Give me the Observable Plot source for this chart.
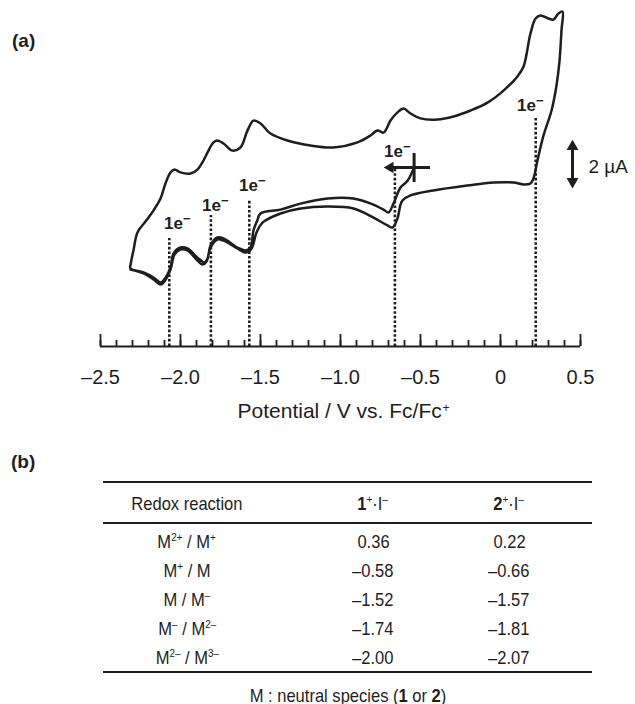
<!DOCTYPE html>
<html>
<head>
<meta charset="utf-8">
<script src="https://cdn.jsdelivr.net/npm/d3@7"></script>
<script src="https://cdn.jsdelivr.net/npm/@observablehq/plot@0.6"></script>
<style>
  html, body { margin: 0; padding: 0; background: #fff; }
  #wrap { position: relative; width: 635px; height: 704px; overflow: hidden;
          font-family: "Liberation Sans", Arial, Helvetica, sans-serif; color: #1e1e1e; }
  #wrap svg { position: absolute; left: 0; top: 0; }
  .abs { position: absolute; white-space: nowrap; }
  .panel { font-weight: bold; font-size: 19px; line-height: 19px; }
  .rule { position: absolute; left: 103px; width: 489px; height: 2.5px; background: #1e1e1e; }
  .cell { position: absolute; white-space: nowrap; }
  sup { font-size: 0.6em; vertical-align: 0.6em; line-height: 0; }
</style>
</head>
<body>
<div id="wrap"></div>
<script>
// ---------- data ----------
// Redox potentials (V vs. Fc/Fc+) from table (b)
const reactions = ["M<sup>2+</sup> / M<sup>+</sup>", "M<sup>+</sup> / M", "M / M<sup>–</sup>",
                   "M<sup>–</sup> / M<sup>2–</sup>", "M<sup>2–</sup> / M<sup>3–</sup>"];
const potentials1 = [0.36, -0.58, -1.52, -1.74, -2.00];
const potentials2 = [0.22, -0.66, -1.57, -1.81, -2.07];

// Cyclic voltammogram of 2+·I− : potential (V) and current (µA, relative offset)
const cvPotential = [
  -0.54, -0.58, -0.625, -0.669, -0.70, -0.731, -0.81, -0.92, -1.08, -1.25, -1.375, -1.50,
  -1.52, -1.544, -1.563, -1.594, -1.644, -1.731, -1.769, -1.8125, -1.831, -1.85, -1.894,
  -1.956, -2.0, -2.044, -2.0625, -2.106, -2.125, -2.169, -2.231, -2.3125,
  -2.31, -2.294, -2.269, -2.219, -2.169, -2.125, -2.094, -2.0625, -2.0375, -2.0, -1.9375,
  -1.894, -1.856, -1.825, -1.794, -1.769, -1.731, -1.675, -1.625, -1.581, -1.544, -1.5,
  -1.4375, -1.331, -1.1875, -1.044, -0.894, -0.8125, -0.769, -0.731, -0.6875, -0.644,
  -0.606, -0.5625, -0.5, -0.394, -0.294, -0.1875, -0.081, 0.019, 0.106, 0.144, 0.1875,
  0.219, 0.25, 0.30, 0.331, 0.3625, 0.3875,
  0.381, 0.369, 0.35, 0.319, 0.269, 0.231, 0.206, 0.1875, 0.144, 0.081, -0.044, -0.206,
  -0.419, -0.5625, -0.6125, -0.625, -0.644, -0.675, -0.706, -0.794, -0.919, -1.081, -1.25,
  -1.375, -1.4875, -1.525, -1.556, -1.594, -1.644, -1.731, -1.769, -1.8125, -1.8375,
  -1.8625, -1.9, -1.956, -2.0, -2.0375, -2.0625, -2.106, -2.125, -2.169, -2.231, -2.3125
];
const cvCurrent = [
  1.38, 0.83, 0.54, -0.13, -0.50, -0.38, -0.13, 0.08, 0.08, -0.13, -0.38, -0.54,
  -0.83, -1.25, -1.96, -2.08, -1.96, -1.58, -1.54, -1.875, -2.42, -2.58, -2.38,
  -2.0, -1.96, -2.21, -2.79, -3.33, -3.42, -3.21, -3.0, -2.83,
  -2.6, -2.08, -1.33, -0.875, -0.42, 0.08, 0.71, 1.17, 1.29, 1.17, 1.125,
  1.29, 1.67, 2.08, 2.42, 2.5, 2.375, 2.08, 2.21, 2.92, 3.33, 3.21,
  2.79, 2.5, 2.29, 2.21, 2.42, 2.71, 2.92, 2.83, 3.33, 3.67,
  3.83, 3.625, 3.42, 3.375, 3.5, 3.75, 4.08, 4.58, 5.17, 5.58, 6.96,
  7.58, 7.71, 7.58, 7.54, 7.79, 7.875,
  7.08, 5.83, 4.79, 3.75, 2.71, 1.67, 0.92, 0.71, 0.67, 0.75, 0.75, 0.625,
  0.42, 0.21, 0.0, -0.17, -0.75, -1.125, -1.04, -0.71, -0.33, -0.25, -0.33,
  -0.54, -0.92, -1.33, -2.0, -2.17, -2.0, -1.67, -1.625, -1.96, -2.54,
  -2.67, -2.46, -2.08, -2.04, -2.25, -2.875, -3.42, -3.5, -3.29, -3.04, -2.875
];

// annotation anchors (µA / V)
const dottedTop = [3.46, 1.33, 0.0, -0.625, -1.583];      // top of each dotted marker line
const labelPotential = [0.1625, -0.669, -1.575, -1.806, -2.044]; // "1e−" label centres
const labelCurrent = [3.96, 2.04, 0.625, -0.208, -0.958];
const majorTicks = [-2.5, -2.0, -1.5, -1.0, -0.5, 0, 0.5];
const minorTicks = d3.range(-25, 6).map(k => k / 10);
const axisTitle = "Potential / V vs. Fc/Fc";
const scaleBar = {potential: 0.45, top: 2.25, bottom: 0.79, label: "2 µA", labelPotential: 0.55, labelCurrent: 1.42};
const startMark = {potential: -0.54, current: 1.375, barTop: 1.96, barBottom: 0.75, arrowFrom: -0.4375, arrowHead: -0.689};

// ---------- chart (a) ----------
const yMin = -6.083, yMax = 8.333;
const plotTop = 0, plotBottom = 346;
const pxPerUnit = (plotBottom - plotTop) / (yMax - yMin);
const u = px => px / pxPerUnit;
const ink = "#1e1e1e";
const cv = cvPotential.map((v, i) => ({v, i: cvCurrent[i]}));
const idx = d3.range(potentials2.length);
const fmtTick = d => d === 0 ? "0" : (d < 0 ? "–" : "") + Math.abs(d).toFixed(1);

const chart = Plot.plot({
  width: 635, height: 440,
  marginLeft: 100, marginRight: 55, marginTop: plotTop, marginBottom: 440 - plotBottom,
  x: {domain: [-2.5, 0.5], axis: null},
  y: {domain: [yMin, yMax], axis: null},
  style: {fontFamily: '"Liberation Sans", Arial, Helvetica, sans-serif', color: ink, background: "transparent", overflow: "visible"},
  marks: [
    // axis line and upward ticks
    Plot.ruleY([yMin], {x1: -2.5, x2: 0.5, stroke: ink, strokeWidth: 2}),
    Plot.ruleX(minorTicks, {x: d => d, y1: yMin, y2: yMin + u(6), stroke: ink, strokeWidth: 1.8}),
    Plot.ruleX(majorTicks, {x: d => d, y1: yMin, y2: yMin + u(12), stroke: ink, strokeWidth: 1.8}),
    Plot.text(majorTicks, {x: d => d, y: yMin, dy: 31, text: fmtTick, fontSize: 20}),
    Plot.text([axisTitle], {frameAnchor: "bottom", dx: -103, dy: 71, textAnchor: "start", text: d => d, fontSize: 21}),
    Plot.text(["+"], {frameAnchor: "bottom", dx: 102, dy: 65, textAnchor: "start", text: d => d, fontSize: 12}),
    // dotted markers at redox potentials
    Plot.ruleX(idx, {x: i => potentials2[i], y1: yMin, y2: i => dottedTop[i], stroke: ink, strokeWidth: 2.6, strokeDasharray: "2.6,2"}),
    // voltammogram
    Plot.line(cv, {x: "v", y: "i", curve: "catmull-rom", stroke: ink, strokeWidth: 2.5, strokeLinejoin: "round"}),
    // "1e−" labels
    Plot.text(idx, {x: i => labelPotential[i], y: i => labelCurrent[i], text: () => "1e", fontSize: 17, fontWeight: "bold"}),
    Plot.text(idx, {x: i => labelPotential[i], y: i => labelCurrent[i], dx: 9.5, dy: -5, textAnchor: "start", text: () => "−", fontSize: 13, fontWeight: "bold"}),
    // start marker (+) with scan direction arrow
    Plot.ruleY([startMark], {x1: "arrowFrom", x2: "arrowHead", y: "current", stroke: ink, strokeWidth: 3}),
    Plot.ruleX([startMark], {x: "potential", y1: "barBottom", y2: "barTop", stroke: ink, strokeWidth: 3}),
    Plot.dot([startMark], {x: "arrowHead", y: "current", symbol: "triangle", r: 4.2, rotate: -90, fill: ink, stroke: null}),
    // 2 µA scale bar
    Plot.ruleX([scaleBar], {x: "potential", y1: "bottom", y2: "top", stroke: ink, strokeWidth: 3}),
    Plot.dot([scaleBar], {x: "potential", y: "top", symbol: "triangle", r: 4.4, fill: ink, stroke: null}),
    Plot.dot([scaleBar], {x: "potential", y: "bottom", symbol: "triangle", r: 4.4, rotate: 180, fill: ink, stroke: null}),
    Plot.text([scaleBar], {x: "labelPotential", y: "labelCurrent", text: "label", textAnchor: "start", fontSize: 19})
  ]
});

const wrap = document.getElementById("wrap");
wrap.appendChild(chart);

// ---------- panel labels ----------
function addAbs(html, cls, left, top, extra) {
  const d = document.createElement("div");
  d.className = cls;
  d.innerHTML = html;
  d.style.left = left + "px";
  d.style.top = top + "px";
  if (extra) Object.assign(d.style, extra);
  wrap.appendChild(d);
  return d;
}
addAbs("(a)", "abs panel", 12, 31);
addAbs("(b)", "abs panel", 11, 452);

// ---------- table (b) ----------
const tFont = '"Liberation Sans", Arial, sans-serif';
const tSize = 19;

const rules = [482, 523, 672];
rules.forEach(y => { const r = document.createElement("div"); r.className = "rule"; r.style.top = (y - 1.25) + "px"; wrap.appendChild(r); });

const colX = [187, 373, 509];
const header = ["Redox reaction", "<b>1</b><sup>+</sup>·I<sup>–</sup>", "<b>2</b><sup>+</sup>·I<sup>–</sup>"];
const rowY = [541, 570, 599, 628, 657];
const fmtE = v => (v < 0 ? "–" : "") + Math.abs(v).toFixed(2);

function cell(html, x, yc) {
  addAbs(html, "cell", x, yc - tSize / 2, {fontFamily: tFont, fontSize: tSize + "px", lineHeight: tSize + "px",
    transform: "translateX(-50%) scaleX(0.87)", transformOrigin: "0 50%"});
}
// note: translate then scale around the cell's left edge; compensate by centring via width measurement
function centredCell(html, x, yc) {
  const d = addAbs(html, "cell", 0, yc - tSize / 2, {fontFamily: tFont, fontSize: tSize + "px", lineHeight: tSize + "px",
    transformOrigin: "50% 50%", transform: "scaleX(0.87)"});
  const w = d.getBoundingClientRect().width / 0.87;
  d.style.left = (x - w / 2) + "px";
}
header.forEach((h, j) => centredCell(h, colX[j], 503));
reactions.forEach((r, i) => {
  centredCell(r, colX[0], rowY[i]);
  centredCell(fmtE(potentials1[i]), colX[1], rowY[i]);
  centredCell(fmtE(potentials2[i]), colX[2], rowY[i]);
});
centredCell("M : neutral species (<b>1</b> or <b>2</b>)", 348, 695);
</script>
</body>
</html>
